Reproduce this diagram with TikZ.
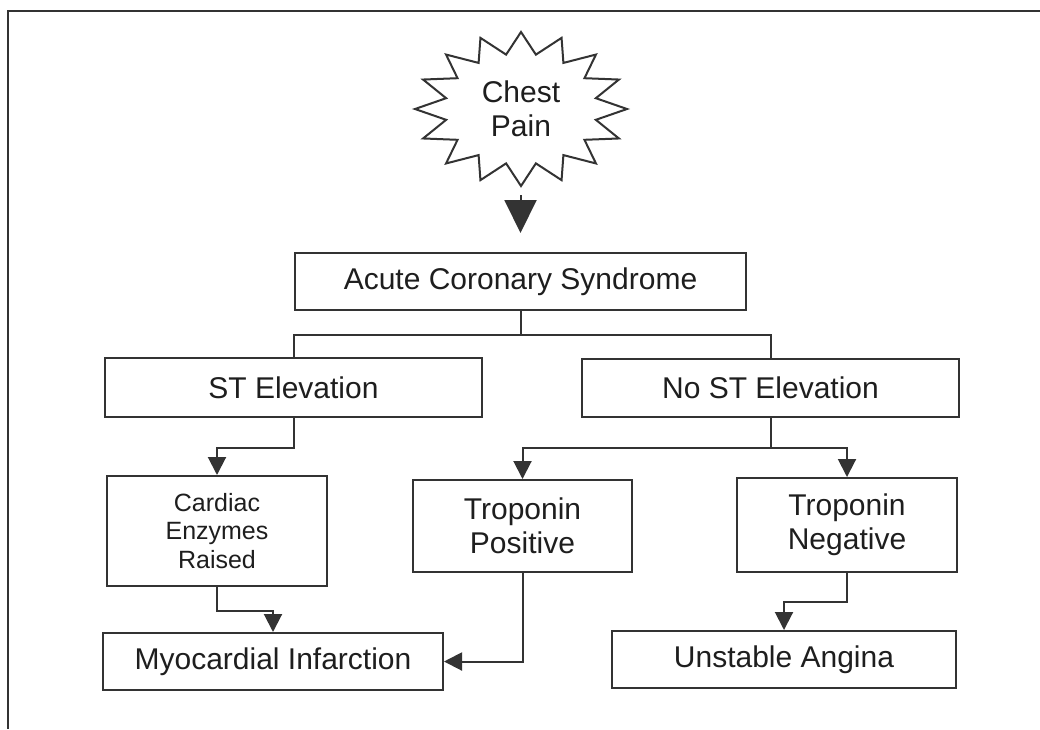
\documentclass[tikz,border=0pt]{standalone}
\usepackage{fontspec}
\setmainfont{Liberation Sans}
\usetikzlibrary{arrows.meta}
\definecolor{linecol}{HTML}{333333}
\definecolor{textcol}{HTML}{1E1E1E}
\begin{document}
\begin{tikzpicture}[x=1pt,y=-1pt,
  box/.style={draw=linecol, line width=2pt, inner sep=0pt, align=center,
    text=textcol, font=\fontsize{30}{34}\selectfont},
  conn/.style={draw=linecol, line width=2pt},
  arr/.style={conn, -{Triangle[length=18pt,width=18pt]}},
  bigarr/.style={conn, -{Triangle[length=33pt,width=32pt]}}]
\useasboundingbox (0,0) rectangle (1040,729);
% frame
\draw[linecol, line width=2pt] (1040,11) -- (8,11) -- (8,729);
% starburst
\draw[linecol, line width=2pt, line join=miter, fill=white]
  plot[variable=\k, samples at={0,...,31}]
  ({521+106*(1-0.28*mod(\k,2))*cos(90-11.25*\k)},
   {109-77*(1-0.28*mod(\k,2))*sin(90-11.25*\k)}) -- cycle;
\node[text=textcol, align=center, font=\fontsize{30}{34}\selectfont, inner sep=0pt]
  (chest) at (521,109) {Chest\\Pain};
\coordinate (cpA) at (520.5,195);
\coordinate (cpB) at (520.5,233);
\draw[bigarr] (cpA) -- (cpB);
% boxes
\node[box, minimum width=451pt, minimum height=57pt] (acs) at (520.5,281.5) {Acute Coronary Syndrome};
\node[box, minimum width=377pt, minimum height=59pt] (st) at (293.5,387.5) {ST Elevation};
\node[box, minimum width=377pt, minimum height=58pt] (nost) at (770.5,388) {No ST Elevation};
\node[box, minimum width=220pt, minimum height=110pt, font=\fontsize{25}{28.5}\selectfont] (card) at (217,531) {Cardiac\\Enzymes\\Raised};
\node[box, minimum width=219pt, minimum height=92pt] (tpos) at (522.5,526) {Troponin\\Positive};
\node[box, minimum width=220pt, minimum height=94pt] (tneg) at (847,525) {Troponin\\Negative};
\node[box, minimum width=340pt, minimum height=57pt] (mi) at (273,661.5) {Myocardial Infarction};
\node[box, minimum width=344pt, minimum height=57pt] (ua) at (784,659.5) {Unstable Angina};
% connectors
\coordinate (j1) at (520.5,335);
\draw[conn] (acs.south) -- (j1);
\draw[conn] (st.north) |- (j1) -| (nost.north);
\draw[arr] (st.south) -- ++(0,30) -| (card.north);
\draw[arr] (card.south) -- ++(0,24) -| (mi.north);
\coordinate (j2) at (770.5,448);
\draw[conn] (nost.south) -- (j2);
\draw[arr] (j2) -| (tpos.north);
\draw[arr] (j2) -| (tneg.north);
\draw[arr] (tpos.south) |- (mi.east);
\draw[arr] (tneg.south) -- ++(0,29) -| (ua.north);
\end{tikzpicture}
\end{document}
